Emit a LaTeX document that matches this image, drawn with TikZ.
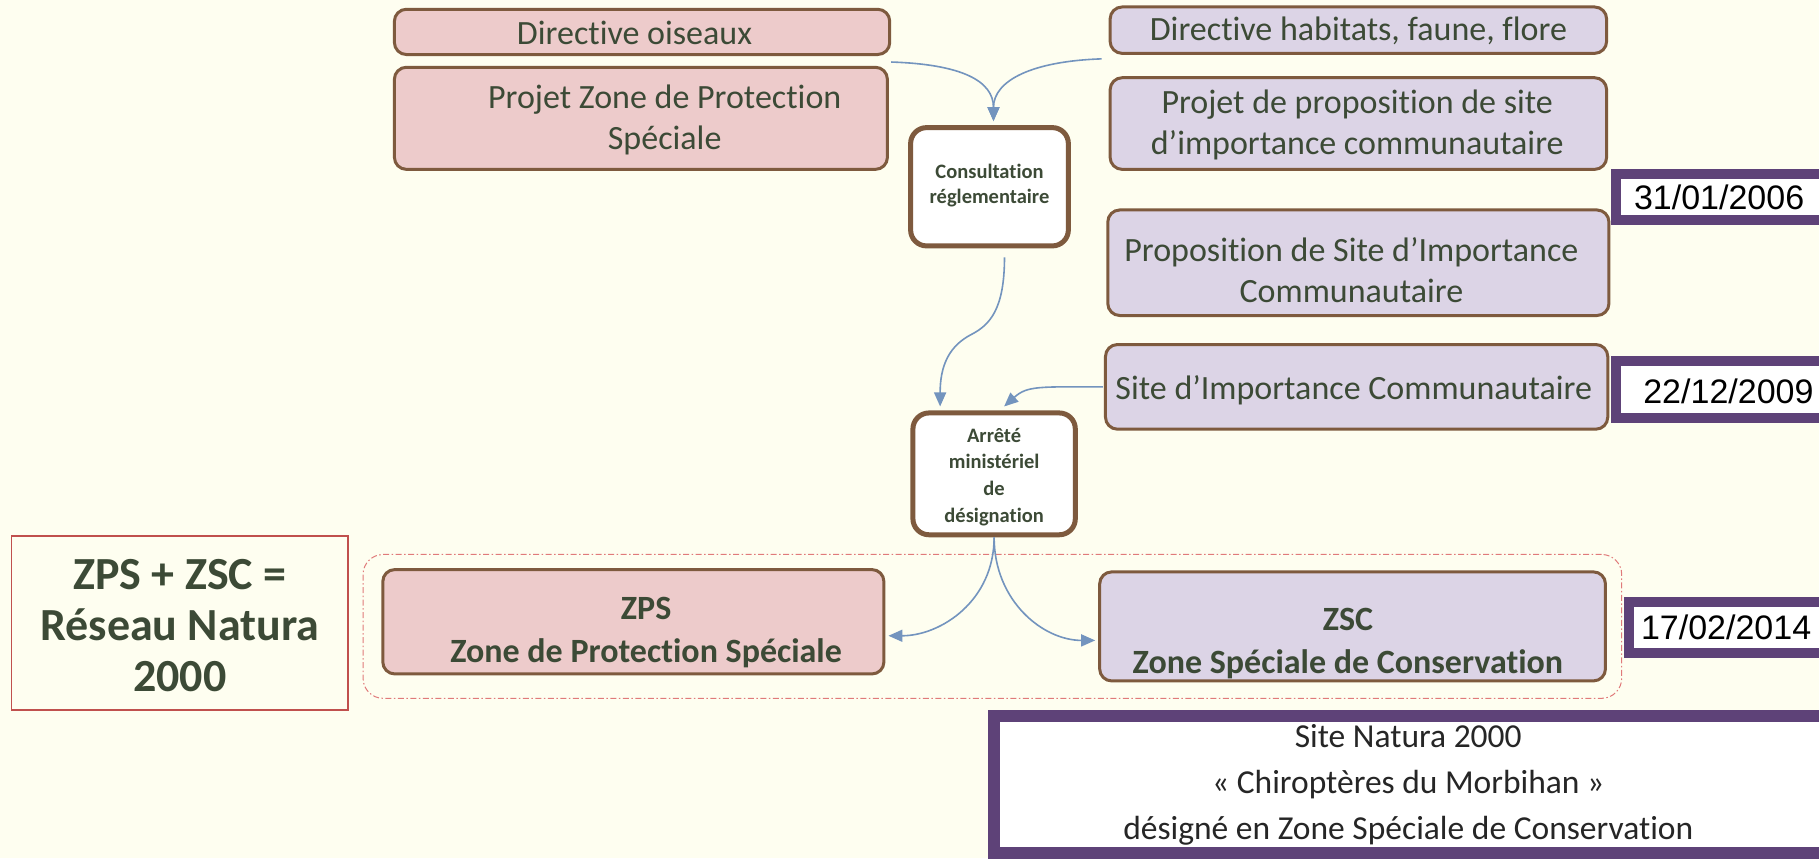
\documentclass[tikz,border=0pt]{standalone}
\usepackage{fontspec}
\setmainfont{Carlito}[Ligatures={CommonOff,ContextualOff},Contextuals=AlternateOff]
\newfontfamily\arialf{Liberation Sans}
\usetikzlibrary{arrows.meta,fit}
\definecolor{bgc}{HTML}{FEFEF0}
\definecolor{pinkc}{HTML}{EDCBCB}
\definecolor{lavc}{HTML}{DCD4E6}
\definecolor{brn}{HTML}{7E5A3E}
\definecolor{purp}{HTML}{5E4278}
\definecolor{txtc}{HTML}{3C4A36}
\definecolor{arrc}{HTML}{7394BE}
\definecolor{grpc}{HTML}{E07A7A}
\definecolor{netc}{HTML}{C0504D}
\begin{document}
\begin{tikzpicture}[x=1.16pt,y=-1.16pt,
  pbox/.style={draw=brn, line width=3pt, fill=pinkc, rounded corners=12pt, inner sep=0pt, text=txtc, align=center, font=\fontsize{34}{41}\selectfont},
  lbox/.style={pbox, fill=lavc},
  wbox/.style={draw=brn, line width=5pt, fill=white, rounded corners=16pt, inner sep=0pt, text=txtc, align=center},
  wtext/.style={text=txtc, align=center, inner sep=0pt},
  datebox/.style={draw=purp, line width=10pt, fill=white, inner sep=0pt},
  datetext/.style={inner sep=0pt, text=black, font=\arialf\fontsize{34}{40}\selectfont},
  conn/.style={draw=arrc, line width=1.6pt, -{Triangle[length=14pt,width=12pt]}},
  grp/.style={draw=grpc, line width=1pt, dash pattern=on 6pt off 2.5pt on 1.5pt off 2.5pt, rounded corners=20pt, inner sep=0pt}
]
\useasboundingbox (0,0) rectangle (1568.1,739.7);
\fill[bgc] (0,0) rectangle (1568.1,739.7);

% group frame
\node[grp, fit={(313,478)(1398,602)}] (grp) {};

% left column
\node[pbox, fit={(340,8)(767,47)}] (dirois) {};
\node[wtext, font=\fontsize{34}{41}\selectfont] (diroisT) at (547,28) {Directive oiseaux};
\node[pbox, fit={(340,58)(765,146)}] (projzps) {};
\node[wtext, font=\fontsize{34}{41}\selectfont] (projzpsT) at (573,103) {Projet Zone de Protection\\Spéciale};

% right column
\node[lbox, fit={(957,6)(1385,46)}] (dirhab) {};
\node[wtext, font=\fontsize{34}{41}\selectfont] (dirhabT) at (1171,27) {Directive habitats, faune, flore};
\node[lbox, fit={(957,67)(1385,146)}] (projpsic) {};
\node[wtext, font=\fontsize{34}{41}\selectfont] (projpsicT) at (1170,108) {Projet de proposition de site\\d’importance communautaire};
\node[lbox, fit={(955,181)(1387,272)}] (psic) {};
\node[wtext, font=\fontsize{34}{41}\selectfont] (psicT) at (1165,233) {Proposition de Site d’Importance\\Communautaire};
\node[lbox, fit={(953,297)(1386,370)}] (sic) {};
\node[wtext, font=\fontsize{34}{41}\selectfont] (sicT) at (1167,336) {Site d’Importance Communautaire};

% middle boxes
\node[wbox, fit={(785,110)(921,212)}] (consult) {};
\node[wtext, font=\bfseries\fontsize{20.5}{25.5}\selectfont] (consultT) at (853,160) {Consultation\\réglementaire};
\node[wbox, fit={(787,356)(927,461)}] (arrete) {};
\node[wtext, font=\bfseries\fontsize{20.5}{26.7}\selectfont] (arreteT) at (857,411) {Arrêté\\ministériel\\de\\désignation};

% bottom boxes
\node[pbox, fit={(330,491)(762,581)}] (zps) {};
\node[wtext, font=\bfseries\fontsize{34}{43}\selectfont] (zpsT) at (557,545) {ZPS\\Zone de Protection Spéciale};
\node[lbox, fit={(948,493)(1384,587)}] (zsc) {};
\node[wtext, font=\bfseries\fontsize{34}{43}\selectfont] (zscT) at (1162,555) {ZSC\\Zone Spéciale de Conservation};

% network box
\node[draw=netc, line width=1.5pt, fill=bgc, inner sep=0pt, fit={(10,462)(300,612)}] (net) {};
\node[wtext, font=\bfseries\fontsize{46}{51}\selectfont] (netT) at (155,539) {ZPS + ZSC =\\Réseau Natura\\2000};

% date boxes
\node[datebox, fit={(1393,150)(1600,190)}] (d1) {};
\node[datetext] (d1T) at (1482,170) {31/01/2006};
\node[datebox, fit={(1393,311)(1600,360)}] (d2) {};
\node[datetext] (d2T) at (1490,337) {22/12/2009};
\node[datebox, fit={(1404,519)(1600,563)}] (d3) {};
\node[datetext] (d3T) at (1488,541) {17/02/2014};

% Natura site box
\node[draw=purp, line width=12pt, fill=white, inner sep=0pt, fit={(857,617)(1600,735)}] (site) {};
\node[wtext, text=black!85, font=\fontsize{33.5}{46}\selectfont] (siteT) at (1214,677) {Site Natura 2000\\« Chiroptères du Morbihan »\\désigné en Zone Spéciale de Conservation};

% connectors
\draw[conn] ([yshift=-6pt]dirois.south east) .. controls +(60,2) and +(0,-35) .. ([xshift=4pt,yshift=4pt]consult.north);
\draw[conn] ([xshift=-7pt,yshift=-4pt]dirhab.south west) .. controls +(-60,2) and +(0,-35) .. ([xshift=4pt,yshift=4pt]consult.north);
\coordinate (mid3) at (838,288);
\draw[conn] ([xshift=15pt,yshift=-9pt]consult.south) .. controls +(0,45) and +(15,-8) .. (mid3) .. controls +(-20,10) and +(0,-35) .. ([xshift=-54pt,yshift=4pt]arrete.north);
\draw[conn] ([xshift=-1pt]sic.west) .. controls +(-55,0) and +(20,-18) .. ([xshift=10pt,yshift=4pt]arrete.north);
\draw[conn] (arrete.south) .. controls +(0,55) and +(45,0) .. ([xshift=3pt,yshift=-14pt]zps.east);
\draw[conn] (arrete.south) .. controls +(0,55) and +(-45,0) .. ([xshift=-3pt,yshift=-14pt]zsc.west);
\end{tikzpicture}
\end{document}
